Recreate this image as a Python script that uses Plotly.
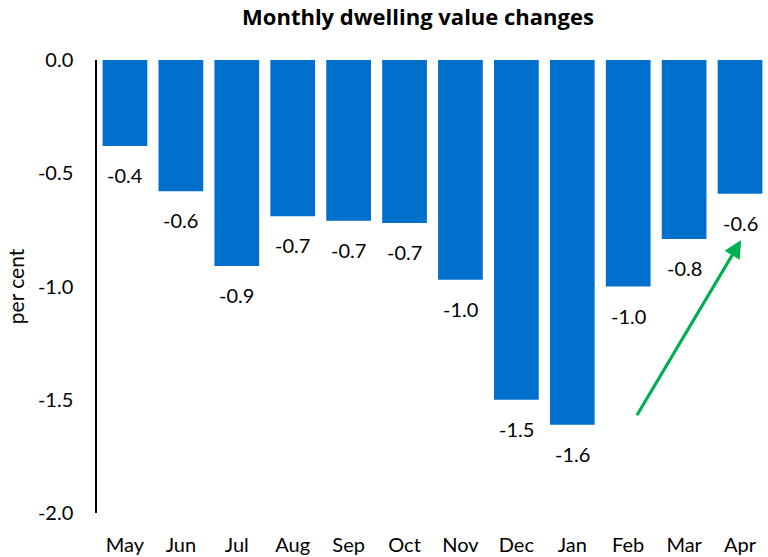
import plotly.graph_objects as go

months = ["May", "Jun", "Jul", "Aug", "Sep", "Oct", "Nov", "Dec", "Jan", "Feb", "Mar", "Apr"]
changes = [-0.38, -0.58, -0.91, -0.69, -0.71, -0.72, -0.97, -1.50, -1.61, -1.00, -0.79, -0.59]
y_ticks = [0.0, -0.5, -1.0, -1.5, -2.0]

FONT = "Lato"
BLUE = "#0070CC"
GREEN = "#00B050"

fig = go.Figure()
fig.add_trace(go.Bar(x=months, y=changes, marker=dict(color=BLUE, line=dict(width=0)),
                     hoverinfo="x+y", showlegend=False))

# value labels sit a little below each bar end
for m, v in zip(months, changes):
    fig.add_annotation(x=m, y=v, text=f"{v:.1f}", showarrow=False, yanchor="top",
                       yshift=-15, font=dict(family=FONT, size=20, color="black"))

# green "recovery" arrow from Feb towards Apr
fig.add_annotation(x=11.02, y=-0.795, ax=9.14, ay=-1.575, xref="x", yref="y",
                   axref="x", ayref="y", text="", showarrow=True, arrowhead=2,
                   arrowsize=1.1, arrowwidth=3.2, arrowcolor=GREEN, standoff=0)

fig.update_layout(
    width=768, height=557,
    margin=dict(l=97, r=0, t=60, b=44),
    paper_bgcolor="white", plot_bgcolor="white",
    font=dict(family=FONT, size=20, color="black"),
    title=dict(text="<b>Monthly dwelling value changes</b>", x=418 / 768, xref="container",
               y=1 - 17 / 557, yref="container", xanchor="center", yanchor="middle",
               font=dict(family="Open Sans", size=22, color="black")),
    bargap=0.2,
    xaxis=dict(type="category", categoryarray=months, showline=False, ticks="",
               showgrid=False, ticklabelstandoff=18, tickfont=dict(size=20)),
    xaxis2=dict(type="category", categoryarray=months, matches="x", overlaying="x",
                side="top", anchor="y", showline=True, linecolor="black", linewidth=1.5,
                ticks="inside", ticklen=6, tickwidth=1.5, tickcolor="black",
                tickson="boundaries", showticklabels=False, showgrid=False),
    yaxis=dict(range=[-2.0, 0.0], tickvals=y_ticks, ticktext=[f"{t:.1f}" for t in y_ticks],
               showline=True, linecolor="black", linewidth=1.5, ticks="", showgrid=False,
               zeroline=False, ticklabelstandoff=18, tickfont=dict(size=20),
               title=dict(text="per cent", standoff=8, font=dict(size=21))),
)

# the page's default body margin would push the 768x557 figure off the window
fig.write_html("out.html", config={"displayModeBar": False},
               post_script="document.body.style.margin='0';")
